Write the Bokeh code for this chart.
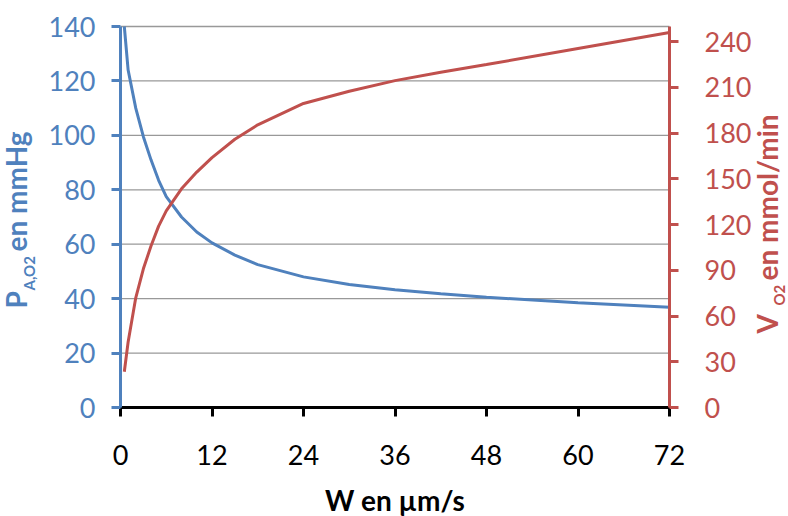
import math
from bokeh.plotting import figure
from bokeh.models import Range1d, LinearAxis, FixedTicker, Label
from bokeh.embed import file_html
from bokeh.resources import INLINE

# ---- data ----
w_um_s = [0.5, 1, 2, 3, 4, 5, 6, 8, 10, 12, 15, 18, 24, 30, 36, 42, 48, 60, 72]
pa_o2_mmhg = [140, 124, 110, 99.5, 91, 83.5, 77.5, 70, 64.5, 60.5, 56, 52.5,
              48, 45.2, 43.3, 41.8, 40.5, 38.5, 36.8]
vo2_mmol_min = [23.5, 43, 72, 91, 106, 119, 129, 143.5, 154.5, 164, 176,
                185.5, 199.5, 207.5, 214.5, 220, 225, 235.5, 246]
x_ticks = [0, 12, 24, 36, 48, 60, 72]
left_ticks = [0, 20, 40, 60, 80, 100, 120, 140]
right_ticks = [0, 30, 60, 90, 120, 150, 180, 210, 240]
x_lim = (0, 72)
left_lim = (0, 140)
right_lim = (0, 250)

BLUE = "#4F81BD"
RED = "#C0504D"
GRID = "#999999"
FONT = "Lato"
TICK_SIZE = "27px"
LABEL_SIZE = 28
SUB_SIZE = 15

# ---- layout: canvas and plotting-area placement in pixels ----
W, H = 788, 516
AREA_L, AREA_R, AREA_T, AREA_B = 120, 669, 26, 407


def padded(lim, lo_px, hi_px, span_px):
    scale = (lim[1] - lim[0]) / span_px
    return Range1d(lim[0] - lo_px * scale, lim[1] + hi_px * scale)


p = figure(frame_width=W, frame_height=H, min_border=0,
           x_range=padded(x_lim, AREA_L, W - AREA_R, AREA_R - AREA_L),
           y_range=padded(left_lim, H - AREA_B, AREA_T, AREA_B - AREA_T),
           output_backend="svg", toolbar_location=None)
p.title.visible = False
p.outline_line_color = None
p.xgrid.visible = False
p.ygrid.visible = False
p.extra_y_ranges = {"v": padded(right_lim, H - AREA_B, AREA_T, AREA_B - AREA_T)}

# horizontal gridlines at the left-axis ticks, across the plotting area
p.segment(x0=[x_lim[0]] * len(left_ticks), x1=[x_lim[1]] * len(left_ticks),
          y0=left_ticks, y1=left_ticks, line_color=GRID, line_width=1.3)

# curves
p.line(w_um_s, pa_o2_mmhg, line_color=BLUE, line_width=3)
p.line(w_um_s, vo2_mmol_min, line_color=RED, line_width=3, y_range_name="v")


def style_axis(ax, color, standoff):
    ax.axis_line_color = color
    ax.axis_line_width = 3
    ax.major_tick_line_color = color
    ax.major_tick_line_width = 3
    ax.major_tick_out = 9
    ax.major_tick_in = 0
    ax.minor_tick_line_color = None
    ax.major_label_text_font = FONT
    ax.major_label_text_font_size = TICK_SIZE
    ax.major_label_text_color = color
    ax.major_label_standoff = standoff


# bottom axis
xa = p.xaxis[0]
xa.ticker = FixedTicker(ticks=x_ticks)
xa.fixed_location = left_lim[0]
xa.bounds = x_lim
style_axis(xa, "black", 28)
xa.axis_label = "W en µm/s"
xa.axis_label_text_font = FONT
xa.axis_label_text_font_style = "bold"
xa.axis_label_text_font_size = f"{LABEL_SIZE}px"
xa.axis_label_text_color = "black"
xa.axis_label_standoff = 15

# left axis
ya = p.yaxis[0]
ya.ticker = FixedTicker(ticks=left_ticks)
ya.fixed_location = x_lim[0]
ya.bounds = left_lim
style_axis(ya, BLUE, 16)

# right axis
ra = LinearAxis(y_range_name="v", ticker=FixedTicker(ticks=right_ticks),
                fixed_location=x_lim[1], bounds=right_lim)
style_axis(ra, RED, 26)
p.add_layout(ra, "right")


def vlabel(text, baseline_x, start_y, size, color):
    # rotated text reading bottom-to-top; anchor shifted so the glyph
    # baseline lands at baseline_x
    p.add_layout(Label(text=text, x=baseline_x - 0.54 * size, y=H - start_y,
                       x_units="screen", y_units="screen",
                       angle=math.pi / 2, text_align="left",
                       text_baseline="alphabetic", text_font=FONT,
                       text_font_style="bold", text_font_size=f"{size}px",
                       text_color=color))


# left axis title: P_{A,O2} en mmHg
vlabel("P", 31, 308, LABEL_SIZE, BLUE)
vlabel("A,O2", 37, 290, SUB_SIZE, BLUE)
vlabel("en mmHg", 31, 251, LABEL_SIZE, BLUE)

# right axis title: V_{O2} en mmol/min
vlabel("V", 782, 333, LABEL_SIZE, RED)
vlabel("O2", 787, 305, SUB_SIZE, RED)
vlabel("en mmol/min", 782, 280, LABEL_SIZE, RED)

open("out.html", "w").write(file_html(p, INLINE))
